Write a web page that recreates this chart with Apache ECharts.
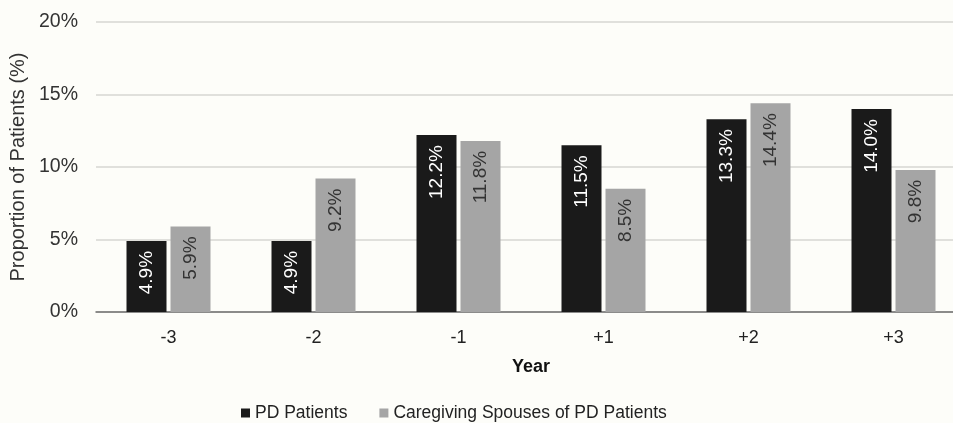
<!DOCTYPE html>
<html>
<head>
<meta charset="utf-8">
<script src="https://cdn.jsdelivr.net/npm/echarts@6/dist/echarts.min.js"></script>
<style>
  html, body { margin: 0; padding: 0; background: #fdfdf9; }
  #main { width: 953px; height: 423px; }
</style>
</head>
<body>
<div id="main"></div>
<script>
var years = ['-3', '-2', '-1', '+1', '+2', '+3'];
var pdPatients = [4.9, 4.9, 12.2, 11.5, 13.3, 14.0];
var spouses = [5.9, 9.2, 11.8, 8.5, 14.4, 9.8];
var yTicks = [0, 5, 10, 15, 20];

var font = 'Arial, "Liberation Sans", sans-serif';

function barLabel(color) {
  return {
    show: true,
    position: 'insideTop',
    rotate: 90,
    align: 'right',
    verticalAlign: 'middle',
    distance: 10,
    color: color,
    fontFamily: font,
    fontSize: 19,
    formatter: function (p) { return p.value.toFixed(1) + '%'; }
  };
}

var myChart = echarts.init(document.getElementById('main'));
myChart.setOption({
  backgroundColor: '#fdfdf9',
  animation: false,
  grid: { left: 96, top: 22, width: 870, height: 290, outerBoundsMode: 'none' },
  legend: {
    top: 399,
    left: 236,
    itemWidth: 9,
    itemHeight: 9,
    itemGap: 32,
    icon: 'rect',
    textStyle: { fontFamily: font, fontSize: 17.5, color: '#222' },
    data: ['PD Patients', 'Caregiving Spouses of PD Patients']
  },
  xAxis: {
    type: 'category',
    data: years,
    name: 'Year',
    nameLocation: 'middle',
    nameGap: 46,
    nameTextStyle: { fontFamily: font, fontSize: 18, fontWeight: 'bold', color: '#111' },
    axisLine: { lineStyle: { color: '#6f6f6f', width: 1.5 } },
    axisTick: { show: false },
    axisLabel: { fontFamily: font, fontSize: 18, color: '#222', margin: 17 }
  },
  yAxis: {
    type: 'value',
    min: yTicks[0],
    max: yTicks[yTicks.length - 1],
    interval: 5,
    name: 'Proportion of Patients (%)',
    nameLocation: 'middle',
    nameGap: 59,
    nameTextStyle: { fontFamily: font, fontSize: 20, color: '#333' },
    axisLine: { show: false },
    axisTick: { show: false },
    axisLabel: { fontFamily: font, fontSize: 19.5, color: '#333', margin: 18, formatter: '{value}%' },
    splitLine: { lineStyle: { color: '#d6d6d2', width: 1.5 } }
  },
  series: [
    {
      name: 'PD Patients',
      type: 'bar',
      data: pdPatients,
      barWidth: 40,
      barGap: '10%',
      itemStyle: { color: '#1a1a1a' },
      label: barLabel('#ffffff')
    },
    {
      name: 'Caregiving Spouses of PD Patients',
      type: 'bar',
      data: spouses,
      barWidth: 40,
      itemStyle: { color: '#a5a5a5' },
      label: barLabel('#333333')
    }
  ]
});
</script>
</body>
</html>
